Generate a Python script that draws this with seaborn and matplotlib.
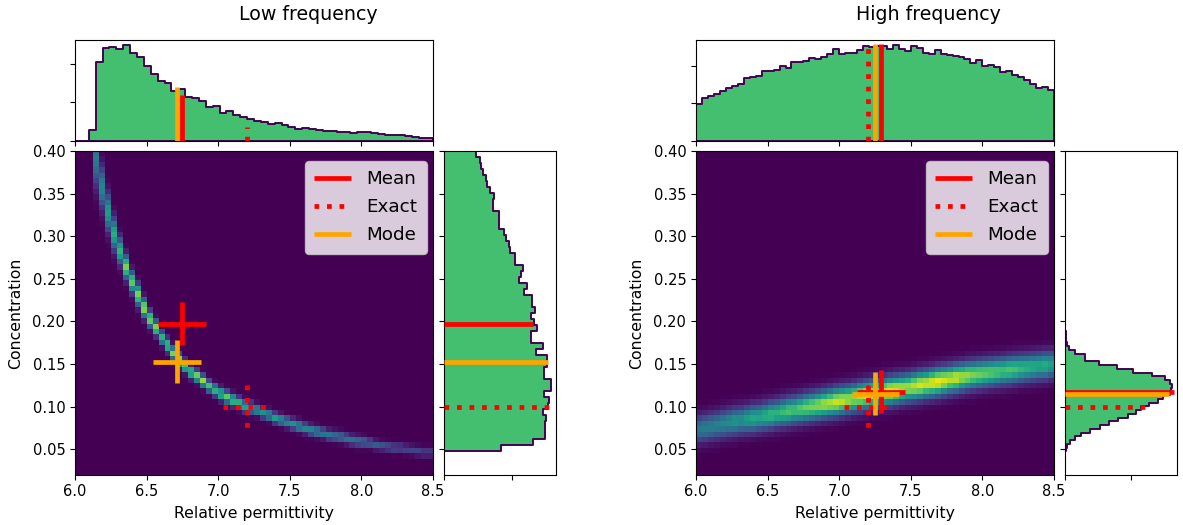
import numpy as np
import matplotlib
matplotlib.use("Agg")
import matplotlib.pyplot as plt
import seaborn as sns

# --- histogram heights ---
low_top = [0,0,32,236,279,282,274,287,264,250,223,201,180,174,148,154,132,128,120,100,
           104,83,88,78,72,65,59,56,51,52,46,42,36,37,35,32,30,30,26,27,
           24,27,25,23,19,17,17,16,13,11,9,7]
high_top = [110,128,134,140,148,158,164,171,188,191,195,208,208,213,225,219,235,235,240,248,
            246,251,260,274,259,263,263,271,283,280,285,285,275,288,276,268,285,277,264,259,
            272,261,257,255,251,244,234,242,225,228,221,206,209,198,190,182,170,157,160,152]
# top-to-bottom order (high concentration first)
low_side = [96,108,111,116,124,127,136,149,146,146,165,165,165,179,186,193,196,213,213,235,
            229,224,248,240,262,262,271,261,269,278,261,261,297,276,308,308,299,299,320,320,
            299,315,311,297,305,301,301,301,266,169]
high_side = [1,1,2,5,11,28,58,58,100,156,203,260,298,313,320,318,313,293,278,251,
             228,211,188,158,131,103,75,48,28,13,5,3]
low_side_range = (0.0477, 0.40)
high_side_range = (0.0473, 0.1885)

# --- ridge of the 2-D heat map, one entry per column ---
low_ridge = [0.42,0.42,0.42,0.389,0.357,0.328,0.3026,0.2826,0.2638,0.2462,
             0.231,0.2157,0.2028,0.1922,0.1805,0.1722,0.1628,0.1546,0.1476,0.1405,
             0.1358,0.13,0.1241,0.1194,0.1147,0.1112,0.1077,0.1041,0.1006,0.0983,
             0.096,0.0924,0.0901,0.0866,0.0842,0.0819,0.0795,0.0772,0.0748,0.0725,
             0.0707,0.0689,0.0666,0.0654,0.0642,0.0625,0.0607,0.0595,0.0584,0.0572,
             0.0549,0.0537,0.0525,0.0513,0.0513,0.05,0.049,0.0478,0.0466,0.0466]
low_peak = [0,0,0,0.40,0.45,0.55,0.62,0.65,0.80,0.75,0.80,0.85,0.80,0.85,0.65,0.75,0.80,0.85,0.80,0.75,
            0.80,0.85,0.70,0.65,0.70,0.75,0.70,0.65,0.60,0.55,0.55,0.50,0.50,0.55,0.50,0.48,0.50,0.50,0.45,0.45,
            0.45,0.40,0.40,0.38,0.38,0.38,0.36,0.35,0.33,0.30,0.28,0.26,0.25,0.24,0.22,0.20,0.20,0.20,0.18,0.18]
low_sigma = [0.02,0.02,0.02,0.02,0.016,0.014,0.012,0.010,0.009,0.008,0.008,0.007,0.006,0.0055,0.005,0.005,0.005,0.005,0.0045,0.0045,
             0.0045,0.0045,0.0045,0.0045,0.0045,0.0045,0.0045,0.0045,0.0045,0.0045,0.004,0.004,0.004,0.004,0.004,0.004,0.004,0.004,0.004,0.004,
             0.004,0.004,0.004,0.004,0.004,0.004,0.004,0.004,0.004,0.0035,0.0035,0.0035,0.0035,0.0035,0.0035,0.0035,0.0035,0.0035,0.0035,0.0035]
high_ridge = [0.0736,0.075,0.0766,0.078,0.0798,0.0814,0.0826,0.0838,0.085,0.0862,
              0.0873,0.0888,0.0903,0.0918,0.0933,0.0947,0.096,0.0974,0.0988,0.1001,
              0.1014,0.1028,0.1042,0.1056,0.107,0.1084,0.11,0.1116,0.1131,0.1147,
              0.1162,0.1175,0.1187,0.12,0.1212,0.1225,0.1238,0.1252,0.1265,0.1278,
              0.1292,0.1306,0.132,0.1334,0.1348,0.1362,0.1371,0.1381,0.139,0.14,
              0.1409,0.1418,0.1428,0.1437,0.1447,0.1456,0.1465,0.1474,0.1482,0.1491]
high_peak = [0.40,0.42,0.43,0.44,0.46,0.48,0.52,0.50,0.55,0.60,0.58,0.62,0.66,0.64,0.68,0.72,0.70,0.74,0.78,0.80,
             0.82,0.86,0.88,0.92,0.90,0.86,0.84,0.88,0.90,0.88,0.84,0.90,0.94,0.92,0.88,0.86,0.90,0.94,0.92,0.96,
             0.98,0.94,0.90,0.92,0.86,0.84,0.80,0.78,0.76,0.74,0.72,0.70,0.72,0.70,0.66,0.64,0.62,0.60,0.62,0.56]
high_sigma = [0.0105] * 60

# --- estimates: (x, y) of mean, exact and mode, and how far each line reaches in the margins
low_mean, low_exact, low_mode = (6.75, 0.1973), (7.2, 0.10), (6.71, 0.1527)
low_top_reach = (137, 42, 160)
low_side_reach = (266, 314, 310)
high_mean, high_exact, high_mode = (7.29, 0.1174), (7.2, 0.10), (7.253, 0.115)
high_top_reach = (290, 290, 290)
high_side_reach = (325, 238, 311)

xticks = [6.0, 6.5, 7.0, 7.5, 8.0, 8.5]
yticks = [0.05, 0.10, 0.15, 0.20, 0.25, 0.30, 0.35, 0.40]
XLIM, YLIM = (6.0, 8.5), (0.02, 0.40)
NCELL = 60
GREEN, PURPLE = "#44BF70", "#440154"
LW = 3.4
W, H = 1183, 525

fig = plt.figure(figsize=(W / 100, H / 100), dpi=100)


def box(l, t, r, b):
    return [l / W, 1 - b / H, (r - l) / W, (b - t) / H]


def cx(v):
    return (np.asarray(v) - XLIM[0]) / (XLIM[1] - XLIM[0]) * NCELL


def cy(v):
    return (np.asarray(v) - YLIM[0]) / (YLIM[1] - YLIM[0]) * NCELL


def grid(ridge, peak, sigma):
    rows = YLIM[0] + (np.arange(NCELL) + 0.5) * (YLIM[1] - YLIM[0]) / NCELL
    z = np.zeros((NCELL, NCELL))
    for c in range(NCELL):
        z[:, c] = peak[c] * np.exp(-0.5 * ((rows - ridge[c]) / sigma[c]) ** 2)
    return z


def panel(left, side_left, title, title_x, top, side, side_range, ridge, peak, sigma,
          mean, exact, mode, top_reach, side_reach, top_yticks, side_tick):
    right = left + 358
    ax = fig.add_axes(box(left, 151, right, 474.7))
    axt = fig.add_axes(box(left, 40, right, 140.7))
    axs = fig.add_axes(box(side_left, 151, side_left + 111.8, 474.7))

    # heat map
    sns.heatmap(grid(ridge, peak, sigma), ax=ax, cmap="viridis", vmin=0, vmax=1, cbar=False,
                square=False, xticklabels=False, yticklabels=False)
    ax.set_xlim(0, NCELL)
    ax.set_ylim(0, NCELL)
    ax.set_xticks(cx(xticks))
    ax.set_xticklabels([f"{v:.1f}" for v in xticks], rotation=0, fontsize=10.5)
    ax.set_yticks(cy(yticks))
    ax.set_yticklabels([f"{v:.2f}" for v in yticks], rotation=0, fontsize=10.5)
    ax.set_xlabel("Relative permittivity", fontsize=11.3, labelpad=4.6)
    ax.set_ylabel("Concentration", fontsize=11.3, labelpad=6.5)
    for s in ax.spines.values():
        s.set_visible(True)

    # margins
    n_top = len(top)
    top_edges = np.linspace(XLIM[0], XLIM[1], n_top + 1)
    sns.histplot(x=(top_edges[:-1] + top_edges[1:]) / 2, weights=top, bins=n_top, binrange=XLIM, ax=axt,
                 element="step", fill=True, color=GREEN, edgecolor=PURPLE, linewidth=1.4, alpha=1)
    axt.set_xlim(*XLIM)
    axt.set_ylim(0, 302)
    axt.set_xticks(xticks)
    axt.set_yticks(top_yticks)
    axt.tick_params(labelbottom=False, labelleft=False)
    axt.set_xlabel("")
    axt.set_ylabel("")

    side_vals = list(side)[::-1]
    side_edges = np.linspace(side_range[0], side_range[1], len(side_vals) + 1)
    sns.histplot(y=(side_edges[:-1] + side_edges[1:]) / 2, weights=side_vals, bins=len(side_vals),
                 binrange=side_range, ax=axs,
                 element="step", fill=True, color=GREEN, edgecolor=PURPLE, linewidth=1.4, alpha=1)
    axs.set_ylim(*YLIM)
    axs.set_xlim(0, 335)
    axs.set_xticks([0, side_tick])
    axs.set_yticks(yticks)
    axs.tick_params(labelbottom=False, labelleft=False)
    axs.set_xlabel("")
    axs.set_ylabel("")

    # markers
    styles = [("Mean", mean, "red", "-"), ("Exact", exact, "red", ":"), ("Mode", mode, "orange", "-")]
    for i, (lab, (px, py), col, ls) in enumerate(styles):
        kw = dict(color=col, ls=ls, lw=LW, dash_capstyle="butt", solid_capstyle="butt", zorder=3 + i)
        ax.plot(cx([px - 0.167, px + 0.167]), cy([py, py]), label=lab, **kw)
        ax.plot(cx([px, px]), cy([py + 0.025, py - 0.025]), **kw)
        axt.plot([px, px], [0, top_reach[i]], **kw)
        axs.plot([0, side_reach[i]], [py, py], **kw)
    ax.legend(loc="upper right", bbox_to_anchor=(0.983, 0.969), borderaxespad=0, fontsize=13.2,
              handletextpad=0.85, borderpad=0.5, labelspacing=0.55)
    fig.text(title_x / W, 1 - 14 / H, title, ha="center", va="center", fontsize=13.7)


panel(75, 444.3, "Low frequency", 308, low_top, low_side, low_side_range, low_ridge, low_peak, low_sigma,
      low_mean, low_exact, low_mode, low_top_reach, low_side_reach, [0, 115, 230], 203)
panel(696, 1065.3, "High frequency", 928.5, high_top, high_side, high_side_range, high_ridge, high_peak, high_sigma,
      high_mean, high_exact, high_mode, high_top_reach, high_side_reach, [0, 112, 225], 198)

fig.savefig("out.png", dpi=100)
